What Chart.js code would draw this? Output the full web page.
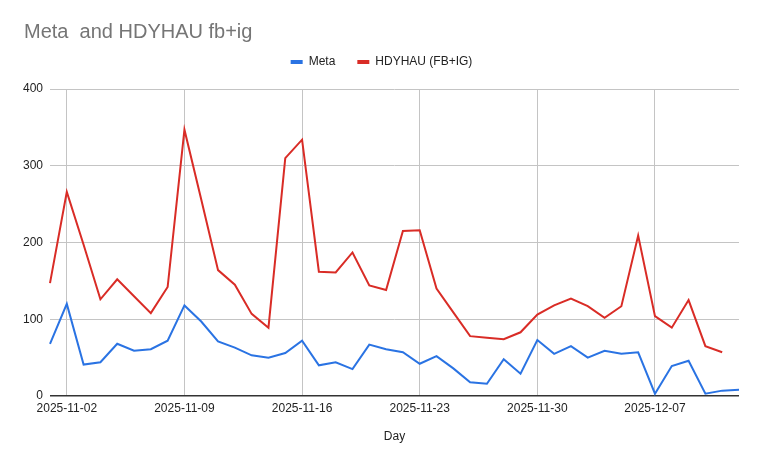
<!DOCTYPE html>
<html>
<head>
<meta charset="utf-8">
<script src="https://cdn.jsdelivr.net/npm/chart.js@4"></script>
<style>
  html, body { margin: 0; padding: 0; background: #fff; }
  #wrap { width: 762px; height: 463px; }
</style>
</head>
<body>
<div id="wrap"><canvas id="chart"></canvas></div>
<script>
// Data
const days = [
    '2025-11-01', '2025-11-02', '2025-11-03', '2025-11-04', '2025-11-05', '2025-11-06', '2025-11-07',
    '2025-11-08', '2025-11-09', '2025-11-10', '2025-11-11', '2025-11-12', '2025-11-13', '2025-11-14',
    '2025-11-15', '2025-11-16', '2025-11-17', '2025-11-18', '2025-11-19', '2025-11-20', '2025-11-21',
    '2025-11-22', '2025-11-23', '2025-11-24', '2025-11-25', '2025-11-26', '2025-11-27', '2025-11-28',
    '2025-11-29', '2025-11-30', '2025-12-01', '2025-12-02', '2025-12-03', '2025-12-04', '2025-12-05',
    '2025-12-06', '2025-12-07', '2025-12-08', '2025-12-09', '2025-12-10', '2025-12-11', '2025-12-12'
];
const meta = [
    68, 120, 41, 44, 68, 59, 61, 72, 118, 97, 71, 63, 53, 50,
    56, 72, 40, 44, 35, 67, 61, 57, 42, 52, 36, 18, 16, 48,
    29, 73, 55, 65, 50, 59, 55, 57, 3, 39, 46, 3, 7, 8
];
const hdyhau = [
    147, 266, 197, 126, 152, 130, 108, 142, 347, 256, 164, 145, 107, 89,
    310, 334, 162, 161, 187, 144, 138, 215, 216, 140, 109, 78, 76, 74,
    83, 106, 118, 127, 117, 102, 117, 209, 104, 89, 125, 65, 57, null
];
const yTicks = [0, 100, 200, 300, 400];

const FONT = '"Liberation Sans", Arial, sans-serif';

// title drawn on the left, like the original
const titlePlugin = {
    id: 'leftTitle',
    afterDraw(chart) {
        const c = chart.ctx;
        c.save();
        c.font = '20px ' + FONT;
        c.fillStyle = '#757575';
        c.textBaseline = 'alphabetic';
        c.fillText('Meta  and HDYHAU fb+ig', 24, 38);
        c.restore();
    }
};

// move the legend up a bit (and centre it on the whole canvas)
// without touching the plot area
const legendShift = {
    id: 'legendShift',
    afterLayout(chart) {
        const lg = chart.legend;
        if (lg) {
            lg.top -= 11;
            lg.bottom -= 11;
            lg.left += 12;
            lg.right += 12;
        }
    }
};

const ctx = document.getElementById('chart').getContext('2d');
const chart = new Chart(ctx, {
    type: 'line',
    data: {
        labels: days,
        datasets: [{
            label: 'Meta',
            data: meta,
            borderColor: '#2a73e3',
            backgroundColor: '#2a73e3',
            borderWidth: 2,
            pointRadius: 0,
            tension: 0
        }, {
            label: 'HDYHAU (FB+IG)',
            data: hdyhau,
            borderColor: '#d92c26',
            backgroundColor: '#d92c26',
            borderWidth: 2,
            pointRadius: 0,
            tension: 0
        }]
    },
    options: {
        responsive: true,
        maintainAspectRatio: false,
        animation: false,
        layout: { padding: { left: 0, right: 23, top: 45, bottom: 0 } },
        plugins: {
            tooltip: { enabled: false },
            legend: {
                position: 'top',
                labels: {
                    font: { family: FONT, size: 12 },
                    color: '#222',
                    boxWidth: 12,
                    boxHeight: 4,
                    padding: 22,
                    generateLabels: ch => Chart.defaults.plugins.legend.labels.generateLabels(ch)
                        .map(l => Object.assign(l, { lineWidth: 0 }))
                }
            }
        },
        scales: {
            x: {
                afterFit: s => { s.height = 67; },
                border: { display: false },
                grid: { color: '#c4c4c4', drawTicks: false },
                ticks: {
                    autoSkip: false,
                    maxRotation: 0,
                    padding: 5,
                    color: '#222',
                    font: { family: FONT, size: 12 },
                    callback: function (v, i) { return i % 7 === 1 ? days[i] : null; }
                },
                title: {
                    display: true,
                    text: 'Day',
                    color: '#222',
                    font: { family: FONT, size: 12 },
                    padding: { top: 0, bottom: 19 }
                }
            },
            y: {
                min: yTicks[0],
                max: yTicks[yTicks.length - 1],
                afterFit: s => { s.width = 50; },
                afterBuildTicks: s => { s.ticks = yTicks.map(v => ({ value: v })); },
                border: { display: false },
                grid: {
                    drawTicks: false,
                    color: c => c.tick.value === 0 ? '#333' : '#c4c4c4',
                    lineWidth: c => c.tick.value === 0 ? 1.5 : 1
                },
                ticks: {
                    padding: 7,
                    color: '#222',
                    font: { family: FONT, size: 12 }
                }
            }
        }
    },
    plugins: [titlePlugin, legendShift]
});
</script>
</body>
</html>
